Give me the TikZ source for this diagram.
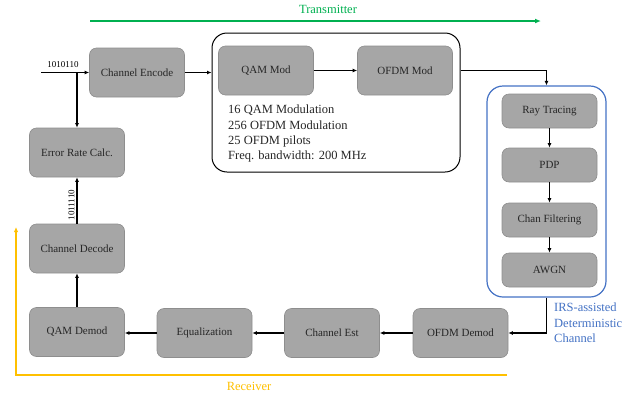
\documentclass[tikz,border=0pt]{standalone}
\usepackage{fontspec}
\setmainfont{Liberation Serif}
\usetikzlibrary{arrows.meta}
\definecolor{boxgray}{HTML}{A6A6A6}
\definecolor{boxedge}{HTML}{8E8E8E}
\definecolor{txgreen}{HTML}{00B050}
\definecolor{rxyellow}{HTML}{FFC000}
\definecolor{chblue}{HTML}{4472C4}
\definecolor{txtgray}{HTML}{262626}
\begin{document}
\begin{tikzpicture}[x=1pt,y=-1pt,
  blk/.style={draw=boxedge, fill=boxgray, rounded corners=7pt, minimum width=95pt, minimum height=49pt, inner sep=0pt, text=txtgray, font=\fontsize{11}{13}\selectfont, line width=0.6pt},
  sblk/.style={blk, minimum height=34pt},
  arr/.style={line width=1.3pt, -{Latex[length=4.5pt,width=4pt]}},
  bigtxt/.style={font=\fontsize{12.5}{15.3}\selectfont}
]
\useasboundingbox (0,0) rectangle (638,397);

% transmitter / receiver indicators
\draw[txgreen, line width=1.6pt, -{Latex[length=6pt,width=5pt]}] (90,21) coordinate (gs) -- (541,21) coordinate (ge);
\node[bigtxt, text=txgreen] (txl) at (328,9) {Transmitter};
\draw[rxyellow, line width=1.3pt, -{Latex[length=5pt,width=4.5pt]}] (507,375) coordinate (ys) -- (16,375) coordinate (yc) -- (16,227) coordinate (ye);
\node[bigtxt, text=rxyellow] (rxl) at (249,386) {Receiver};

% containers
\node[draw=black, line width=1pt, rounded corners=15pt, minimum width=248pt, minimum height=139pt] (big) at (336,102.5) {};
\node[draw=chblue, line width=1.2pt, rounded corners=16pt, minimum width=119pt, minimum height=211pt] (blue) at (546.5,191.5) {};

% blocks
\node[blk] (enc) at (137,72.5) {Channel Encode};
\node[blk] (qam) at (266,70.5) {QAM Mod};
\node[blk] (ofdm) at (405,70.5) {OFDM Mod};
\node[blk] (err) at (77,152.5) {Error Rate Calc.};
\node[blk] (dec) at (77,248.5) {Channel Decode};
\node[blk] (qamd) at (77,332) {QAM Demod};
\node[blk] (eq) at (204.5,333) {Equalization};
\node[blk] (est) at (332,333) {Channel Est};
\node[blk] (ofdmd) at (460.5,333) {OFDM Demod};
\node[sblk] (ray) at (549.5,111) {Ray Tracing};
\node[sblk] (pdp) at (549.5,165) {PDP};
\node[sblk] (chf) at (549.5,220) {Chan Filtering};
\node[sblk] (awgn) at (549.5,270) {AWGN};

% texts
\node[bigtxt, anchor=north west, align=left, inner sep=0pt, text=txtgray] (params) at (228,105) {16 QAM Modulation\\256 OFDM Modulation\\25 OFDM pilots\\Freq. bandwidth: 200 MHz};
\node[bigtxt, anchor=north west, align=left, inner sep=0pt, text=chblue] (irs) at (554,303) {IRS-assisted\\Deterministic\\Channel};

% connectors
\coordinate (in) at (41,72.5);
\coordinate (j) at (77,72.5);
\draw[arr] (in) -- (enc.west);
\node[font=\fontsize{9}{10}\selectfont, inner sep=0pt] (b1) at (63,65) {1010110};
\draw[arr] (j) -- (err.north);
\draw[arr] (enc.east) -- (enc.east -| big.west);
\draw[arr] (qam.east) -- (ofdm.west);
\draw[arr] (ofdm.east -| big.east) -| (blue.north);
\draw[arr] (ray) -- (pdp);
\draw[arr] (pdp) -- (chf);
\draw[arr] (chf) -- (awgn);
\draw[arr] (blue.south) |- (ofdmd.east);
\draw[arr] (ofdmd.west) -- (est.east);
\draw[arr] (est.west) -- (eq.east);
\draw[arr] (eq.west) -- (eq.west -| qamd.east);
\draw[arr] (qamd.north) -- (dec.south);
\draw[arr] (dec.north) -- (err.south) node[pos=0.4, left=1pt, rotate=90, anchor=south, font=\fontsize{9}{10}\selectfont, inner sep=1pt] (b2) {1011110};
\end{tikzpicture}
\end{document}
